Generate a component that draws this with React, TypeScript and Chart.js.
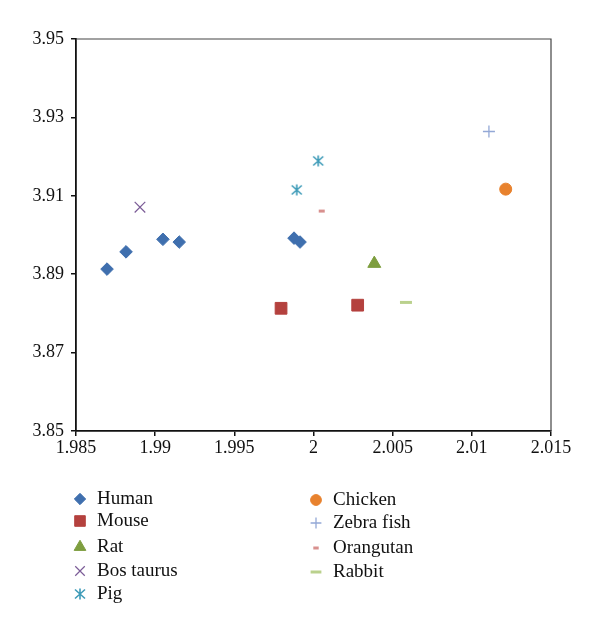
import React, { useEffect, useRef } from "react";
import { Chart, registerables } from "chart.js";
import { drawPoint } from "chart.js/helpers";

Chart.register(...registerables);

const seriesNames = ["Human", "Mouse", "Rat", "Bos taurus", "Pig", "Chicken", "Zebra fish", "Orangutan", "Rabbit"];

const humanX = [1.98696, 1.98816, 1.99049, 1.99152, 1.99877, 1.99915];
const humanY = [3.8913, 3.8957, 3.8989, 3.8982, 3.8992, 3.8982];
const mouseX = [1.99795, 2.00279];
const mouseY = [3.8813, 3.8821];
const ratX = [2.00384];
const ratY = [3.8927];
const bosX = [1.98904];
const bosY = [3.9071];
const pigX = [2.0003, 1.99894];
const pigY = [3.9189, 3.9115];
const chickenX = [2.01214];
const chickenY = [3.9117];
const zebraX = [2.01108];
const zebraY = [3.9264];
const orangutanX = [2.00052];
const orangutanY = [3.9061];
const rabbitX = [2.00584];
const rabbitY = [3.8828];

const xTicks = [1.985, 1.99, 1.995, 2, 2.005, 2.01, 2.015];
const xTickLabels = ["1.985", "1.99", "1.995", "2", "2.005", "2.01", "2.015"];
const yTicks = [3.85, 3.87, 3.89, 3.91, 3.93, 3.95];
const yTickLabels = ["3.85", "3.87", "3.89", "3.91", "3.93", "3.95"];

const pts = (xs: number[], ys: number[]) => xs.map((x, i) => ({ x, y: ys[i] }));

function makePigMarker(color: string) {
  const c = document.createElement("canvas");
  c.width = 14;
  c.height = 14;
  const g = c.getContext("2d")!;
  g.strokeStyle = color;
  g.lineWidth = 1.6;
  g.beginPath();
  g.moveTo(2, 2.5);
  g.lineTo(12, 11.5);
  g.moveTo(12, 2.5);
  g.lineTo(2, 11.5);
  g.moveTo(7, 1.5);
  g.lineTo(7, 12.5);
  g.stroke();
  return c;
}

const legendPositions = [
  [80, 499], [80, 521], [80, 547], [80, 571], [80, 594],
  [316, 500], [316, 523], [316, 548], [316, 572],
];

export default function App() {
  const ref = useRef<HTMLCanvasElement>(null);
  useEffect(() => {
    const pig = makePigMarker("#3E9BB8");
    const datasets: any[] = [
      { label: seriesNames[0], data: pts(humanX, humanY), pointStyle: "rectRot", pointRadius: 6.3, backgroundColor: "#3F6FAE", borderColor: "#3F6FAE", borderWidth: 1 },
      { label: seriesNames[1], data: pts(mouseX, mouseY), pointStyle: "rect", pointRadius: 8.3, backgroundColor: "#B4413E", borderColor: "#B4413E", borderWidth: 1 },
      { label: seriesNames[2], data: pts(ratX, ratY), pointStyle: "triangle", pointRadius: 7.5, backgroundColor: "#7E9E3F", borderColor: "#7E9E3F", borderWidth: 1 },
      { label: seriesNames[3], data: pts(bosX, bosY), pointStyle: "crossRot", pointRadius: 7.5, backgroundColor: "#7B5C97", borderColor: "#7B5C97", borderWidth: 1.2 },
      { label: seriesNames[4], data: pts(pigX, pigY), pointStyle: pig, pointRadius: 6, backgroundColor: "#3E9BB8", borderColor: "#3E9BB8", borderWidth: 1 },
      { label: seriesNames[5], data: pts(chickenX, chickenY), pointStyle: "circle", pointRadius: 6, backgroundColor: "#E8822E", borderColor: "#E8822E", borderWidth: 1 },
      { label: seriesNames[6], data: pts(zebraX, zebraY), pointStyle: "cross", pointRadius: 6, backgroundColor: "#93A8D6", borderColor: "#93A8D6", borderWidth: 1.3 },
      { label: seriesNames[7], data: pts(orangutanX, orangutanY), pointStyle: "line", pointRadius: 3, backgroundColor: "#D8908E", borderColor: "#D8908E", borderWidth: 3 },
      { label: seriesNames[8], data: pts(rabbitX, rabbitY), pointStyle: "line", pointRadius: 6, backgroundColor: "#BAD18D", borderColor: "#BAD18D", borderWidth: 3 },
    ];

    const boxPlugin = {
      id: "boxAndLegend",
      afterDraw(chart: any) {
        const { ctx, chartArea } = chart;
        ctx.save();
        ctx.strokeStyle = "#444";
        ctx.lineWidth = 1.2;
        ctx.beginPath();
        ctx.moveTo(chartArea.left, chartArea.top);
        ctx.lineTo(chartArea.right, chartArea.top);
        ctx.lineTo(chartArea.right, chartArea.bottom);
        ctx.stroke();
        ctx.font = '19px "Liberation Serif"';
        ctx.textBaseline = "middle";
        ctx.textAlign = "left";
        ctx.fillStyle = "#111";
        chart.data.datasets.forEach((ds: any, i: number) => {
          const [lx, ly] = legendPositions[i];
          ctx.fillStyle = ds.backgroundColor;
          ctx.strokeStyle = ds.borderColor;
          ctx.lineWidth = ds.borderWidth;
          drawPoint(ctx, { pointStyle: ds.pointStyle, radius: ds.pointRadius * 0.9, borderWidth: ds.borderWidth, rotation: 0 }, lx, ly);
          ctx.fillStyle = "#111";
          ctx.fillText(ds.label, lx + 17, ly);
        });
        ctx.restore();
      },
    };

    const tickFont = { family: '"Liberation Serif"', size: 18 };
    const chart = new Chart(ref.current!, {
      type: "scatter",
      data: { datasets },
      options: {
        animation: false,
        responsive: false,
        layout: { padding: { left: 0, top: 39, right: 49, bottom: 156 } },
        plugins: { legend: { display: false }, tooltip: { enabled: false } },
        scales: {
          x: {
            type: "linear",
            min: 1.985,
            max: 2.015,
            afterBuildTicks: (s: any) => { s.ticks = xTicks.map((v) => ({ value: v })); },
            afterFit: (s: any) => { s.height = 40; },
            ticks: {
              font: tickFont,
              color: "#111",
              padding: 1,
              maxRotation: 0,
              autoSkip: false,
              callback: (v: any) => xTickLabels[xTicks.findIndex((t) => Math.abs(t - v) < 1e-9)] ?? "",
            },
            grid: { drawOnChartArea: false, tickLength: 5, color: "#111", lineWidth: 1.5 },
            border: { color: "#111", width: 1.8 },
          },
          y: {
            type: "linear",
            min: 3.85,
            max: 3.95,
            afterBuildTicks: (s: any) => { s.ticks = yTicks.map((v) => ({ value: v })); },
            afterFit: (s: any) => { s.width = 76; },
            ticks: {
              font: tickFont,
              color: "#111",
              padding: 7,
              autoSkip: false,
              callback: (v: any) => yTickLabels[yTicks.findIndex((t) => Math.abs(t - v) < 1e-9)] ?? "",
            },
            grid: { drawOnChartArea: false, tickLength: 5, color: "#111", lineWidth: 1.5 },
            border: { color: "#111", width: 1.8 },
          },
        },
      },
      plugins: [boxPlugin],
    });
    return () => chart.destroy();
  }, []);
  return (
    <div style={{ position: "absolute", left: 0, top: 0, width: 600, height: 627, background: "#fff" }}>
      <canvas ref={ref} width={600} height={627} />
    </div>
  );
}
